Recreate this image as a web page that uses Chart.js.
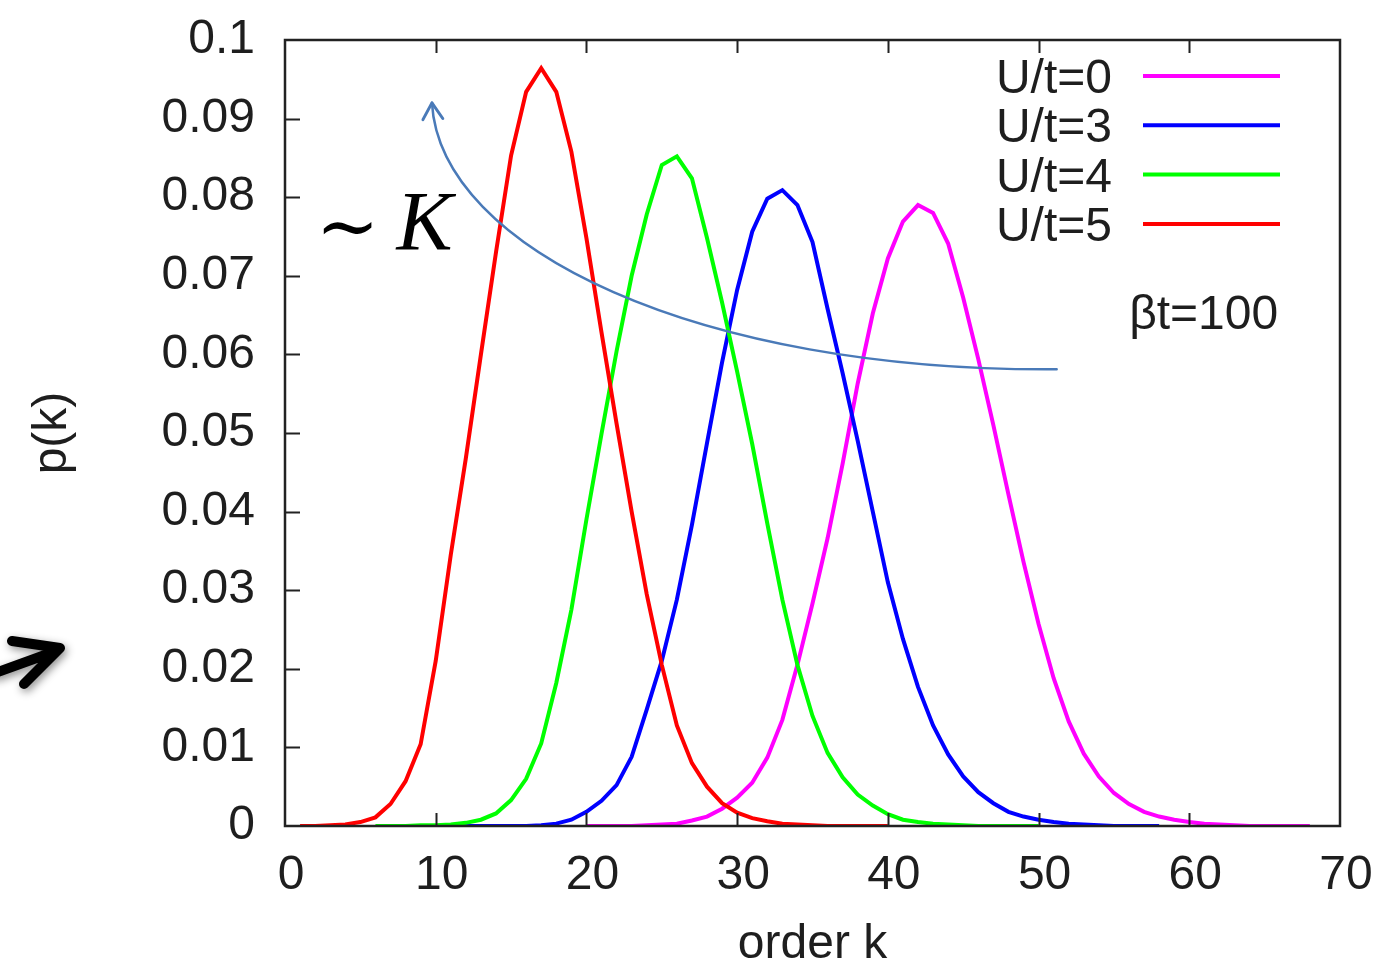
<!DOCTYPE html>
<html>
<head>
<meta charset="utf-8">
<script src="https://cdn.jsdelivr.net/npm/chart.js@4.4.1/dist/chart.umd.min.js"></script>
<style>
  html, body { margin: 0; padding: 0; background: #fff; }
  canvas { display: block; }
</style>
</head>
<body>
<canvas id="chart" width="1383" height="971"></canvas>
<script>
// series (p(k) at integer k)
const seriesNames = ['U/t=0', 'U/t=3', 'U/t=4', 'U/t=5'];
const seriesColors = ['#ff00ff', '#0000ff', '#00ff00', '#ff0000'];
const seriesStartK = [20, 11, 6, 1];

// k = 20..68
const pU0 = [0, 0, 0, 0, 0.0001, 0.0002, 0.0003, 0.0007, 0.0012, 0.0022,
  0.0036, 0.0055, 0.0087, 0.0135, 0.0205, 0.0283, 0.0366, 0.0461, 0.0563, 0.0652,
  0.0722, 0.0769, 0.0790, 0.0780, 0.0741, 0.0672, 0.0594, 0.0510, 0.0422, 0.0336,
  0.0257, 0.0188, 0.0133, 0.0092, 0.0063, 0.0042, 0.0028, 0.0018, 0.0012, 0.0008,
  0.0005, 0.0003, 0.0002, 0.0001, 0, 0, 0, 0, 0];
// k = 11..58
const pU3 = [0, 0, 0, 0, 0, 0, 0.0001, 0.0003, 0.0008, 0.0018,
  0.0032, 0.0052, 0.0088, 0.0148, 0.0210, 0.0288, 0.0383, 0.0487, 0.0590, 0.0682,
  0.0756, 0.0798, 0.0809, 0.0790, 0.0743, 0.0658, 0.0576, 0.0490, 0.0400, 0.0310,
  0.0238, 0.0177, 0.0128, 0.0091, 0.0063, 0.0043, 0.0029, 0.0018, 0.0012, 0.0008,
  0.0005, 0.0003, 0.0002, 0.0001, 0, 0, 0, 0];
// k = 6..50
const pU4 = [0, 0, 0, 0.0001, 0.0001,
  0.0002, 0.0004, 0.0008, 0.0016, 0.0033, 0.0060, 0.0105, 0.0182, 0.0275, 0.0390,
  0.0499, 0.0604, 0.0700, 0.0778, 0.0841, 0.0852, 0.0824, 0.0748, 0.0666, 0.0578,
  0.0486, 0.0385, 0.0288, 0.0205, 0.0140, 0.0093, 0.0062, 0.0040, 0.0026, 0.0015,
  0.0008, 0.0005, 0.0003, 0.0002, 0.0001, 0, 0, 0, 0, 0];
// k = 1..40
const pU5 = [0, 0, 0.0001, 0.0002, 0.0005, 0.0011, 0.0028, 0.0057, 0.0104, 0.0210,
  0.0345, 0.0468, 0.0600, 0.0730, 0.0853, 0.0934, 0.0964, 0.0934, 0.0858, 0.0748,
  0.0628, 0.0512, 0.0400, 0.0295, 0.0205, 0.0128, 0.0080, 0.0050, 0.0029, 0.0017,
  0.0010, 0.0006, 0.0003, 0.0002, 0.0001, 0, 0, 0, 0, 0];

const seriesValues = [pU0, pU3, pU4, pU5];

const xTickValues = [0, 10, 20, 30, 40, 50, 60, 70];
const xTickLabels = ['0', '10', '20', '30', '40', '50', '60', '70'];
const yTickValues = [0, 0.01, 0.02, 0.03, 0.04, 0.05, 0.06, 0.07, 0.08, 0.09, 0.1];
const yTickLabels = ['0', '0.01', '0.02', '0.03', '0.04', '0.05', '0.06', '0.07', '0.08', '0.09', '0.1'];

const FONT = "'Liberation Sans', Arial, sans-serif";
const TEXT = '#1e1e1e';

function toPoints(startK, values) {
  return values.map((v, i) => ({ x: startK + i, y: v }));
}

const datasets = seriesNames.map((name, i) => ({
  label: name,
  data: toPoints(seriesStartK[i], seriesValues[i]),
  borderColor: seriesColors[i],
  borderWidth: 4,
  pointRadius: 0,
  tension: 0,
  fill: false,
  order: seriesNames.length - i // later series drawn on top, like gnuplot
}));

// keep the plot box where the picture has it
function noOverhang(s) {
  s.paddingTop = 0;
  s.paddingBottom = 0;
  s.paddingLeft = 0;
  s.paddingRight = 0;
}

// frame, inward ticks, key and the hand-drawn notes
const decor = {
  id: 'decor',
  afterDatasetsDraw(chart) {
    const { ctx, chartArea: a, scales: { x, y } } = chart;
    ctx.save();
    ctx.strokeStyle = '#222';
    ctx.lineWidth = 2;
    ctx.beginPath();
    x.ticks.forEach(t => {
      if (t.value <= x.min || t.value >= x.max) return;
      const px = Math.round(x.getPixelForValue(t.value)) + 0.5;
      ctx.moveTo(px, a.bottom); ctx.lineTo(px, a.bottom - 13);
      ctx.moveTo(px, a.top); ctx.lineTo(px, a.top + 13);
    });
    y.ticks.forEach(t => {
      if (t.value <= y.min || t.value >= y.max) return;
      const py = Math.round(y.getPixelForValue(t.value)) + 0.5;
      ctx.moveTo(a.left, py); ctx.lineTo(a.left + 15, py);
    });
    ctx.stroke();
    ctx.lineWidth = 2.5;
    ctx.strokeRect(a.left, a.top, a.right - a.left, a.bottom - a.top);
    ctx.restore();
  },
  afterDraw(chart) {
    const { ctx, chartArea: a, scales: { x, y } } = chart;
    ctx.save();

    // key
    ctx.font = '48px ' + FONT;
    ctx.fillStyle = TEXT;
    ctx.textAlign = 'right';
    ctx.textBaseline = 'alphabetic';
    chart.data.datasets.forEach((ds, i) => {
      const ly = a.top + 36 + i * 49.3;
      ctx.fillText(ds.label, a.right - 228, ly + 17);
      ctx.strokeStyle = ds.borderColor;
      ctx.lineWidth = 4;
      ctx.beginPath();
      ctx.moveTo(a.right - 197, ly);
      ctx.lineTo(a.right - 60, ly);
      ctx.stroke();
    });
    ctx.fillText('\u03b2t=100', x.getPixelForValue(65.9), y.getPixelForValue(0.0632));

    // ~ K
    ctx.textAlign = 'center';
    ctx.textBaseline = 'middle';
    ctx.font = "76px 'DejaVu Serif', serif";
    ctx.fillStyle = '#000';
    ctx.fillText('\u223c', x.getPixelForValue(4.15), y.getPixelForValue(0.0755));
    ctx.textAlign = 'left';
    ctx.textBaseline = 'alphabetic';
    ctx.font = "italic 84px 'Liberation Serif', 'Times New Roman', serif";
    ctx.fillText('K', x.getPixelForValue(7.4), y.getPixelForValue(0.0733));

    // blue curved arrow
    const ak = [51.2, 27.5, 10.3, 9.75];
    const ap = [0.0581, 0.0578, 0.0733, 0.0920];
    const px = ak.map(v => x.getPixelForValue(v));
    const py = ap.map(v => y.getPixelForValue(v));
    ctx.strokeStyle = '#4a7ab8';
    ctx.lineWidth = 2.5;
    ctx.lineCap = 'round';
    ctx.lineJoin = 'round';
    ctx.beginPath();
    ctx.moveTo(px[0], py[0]);
    ctx.bezierCurveTo(px[1], py[1], px[2], py[2], px[3], py[3]);
    ctx.stroke();
    const ang = Math.atan2(py[3] - py[2], px[3] - px[2]);
    ctx.lineWidth = 3;
    ctx.beginPath();
    [0.55, -0.55].forEach(d => {
      ctx.moveTo(px[3], py[3]);
      ctx.lineTo(px[3] - 19 * Math.cos(ang + d), py[3] - 19 * Math.sin(ang + d));
    });
    ctx.stroke();

    // thick black arrow at the left edge
    ctx.strokeStyle = '#000';
    ctx.lineWidth = 10;
    ctx.shadowColor = 'rgba(0,0,0,0.45)';
    ctx.shadowBlur = 8;
    ctx.shadowOffsetX = 2;
    ctx.shadowOffsetY = 3;
    ctx.beginPath();
    ctx.moveTo(-5, 673); ctx.lineTo(56, 651);
    ctx.moveTo(12, 641); ctx.lineTo(60, 648); ctx.lineTo(24, 684);
    ctx.stroke();
    ctx.restore();
  }
};

new Chart(document.getElementById('chart').getContext('2d'), {
  type: 'line',
  data: { datasets },
  options: {
    responsive: false,
    animation: false,
    devicePixelRatio: 1,
    layout: { padding: { top: 40, right: 43, left: 0, bottom: 0 } },
    plugins: { legend: { display: false }, tooltip: { enabled: false } },
    scales: {
      x: {
        type: 'linear',
        min: 0,
        max: 70,
        afterBuildTicks: s => { s.ticks = xTickValues.map(v => ({ value: v })); },
        afterFit: s => { s.height = 145; noOverhang(s); },
        grid: { display: false, drawTicks: false },
        border: { display: false },
        ticks: {
          autoSkip: false,
          maxRotation: 0,
          padding: 21,
          labelOffset: 6,
          color: TEXT,
          font: { family: FONT, size: 48, lineHeight: 1.2 },
          callback: (v, i) => xTickLabels[i]
        },
        title: {
          display: true,
          text: 'order k',
          color: TEXT,
          font: { family: FONT, size: 48, lineHeight: 1 },
          padding: { top: 0, bottom: 2 }
        }
      },
      y: {
        type: 'linear',
        min: 0,
        max: 0.1,
        afterBuildTicks: s => { s.ticks = yTickValues.map(v => ({ value: v })); },
        afterFit: s => { s.width = 285; noOverhang(s); },
        grid: { display: false, drawTicks: false },
        border: { display: false },
        ticks: {
          autoSkip: false,
          padding: 30,
          color: TEXT,
          font: { family: FONT, size: 48, lineHeight: 1.2 },
          callback: (v, i) => yTickLabels[i]
        },
        title: {
          display: true,
          text: 'p(k)',
          color: TEXT,
          font: { family: FONT, size: 48, lineHeight: 1 },
          padding: { top: 29, bottom: 0 }
        }
      }
    }
  },
  plugins: [decor]
});
</script>
</body>
</html>
